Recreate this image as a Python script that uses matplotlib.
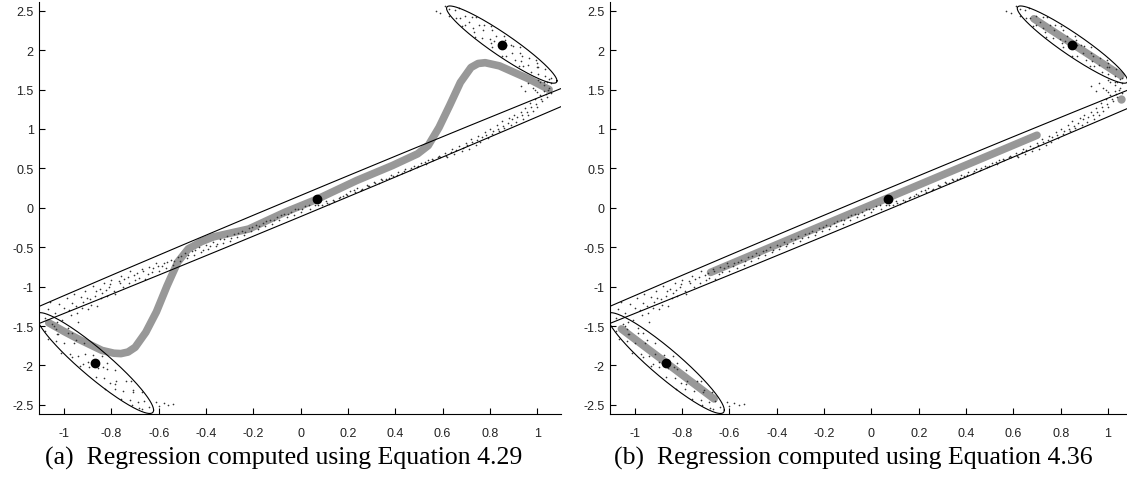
import matplotlib.pyplot as plt
import numpy as np

plt.rcParams['axes.unicode_minus'] = False
plt.rcParams['font.family'] = 'Liberation Sans'

# Gaussian components (means and covariances)
means = [(-0.87, -1.97), (0.07, 0.11), (0.85, 2.07)]
covs = [
    [[0.0615, -0.1479], [-0.1479, 0.4088]],
    [[4.000, 4.998], [4.998, 6.263]],
    [[0.0545, -0.1074], [-0.1074, 0.2399]],
]

# training samples
band_x = [-1.08, -1.06, -1.05, -1.04, -1.02, -1.01, -0.99, -0.98, -0.97, -0.96,
          -0.95, -0.94, -0.93, -0.92, -0.91, -0.90, -0.89, -0.88, -0.87, -0.86,
          -0.85, -0.84, -0.83, -0.82, -0.81, -0.80, -0.79, -0.77, -0.76, -0.75,
          -0.73, -0.72, -0.70, -0.69, -0.67, -0.66, -0.64, -0.63, -0.61, -0.60,
          -0.58, -0.57, -0.55, -0.54, -0.52, -0.51, -0.49, -0.48, -0.46, -0.45,
          -0.43, -0.42, -0.40, -0.39, -0.37, -0.36, -0.34, -0.33, -0.31, -0.30,
          -0.28, -0.27, -0.25, -0.24, -0.22, -0.21, -0.19, -0.18, -0.16, -0.15,
          -0.13, -0.12, -0.10, -0.09, -0.07, -0.06, -0.04, -0.03, -0.01, 0.00,
          0.02, 0.04, 0.09, 0.11, 0.12, 0.14, 0.16, 0.18, 0.19, 0.21,
          0.23, 0.24, 0.26, 0.28, 0.29, 0.31, 0.33, 0.34, 0.36, 0.38,
          0.39, 0.41, 0.43, 0.44, 0.46, 0.48, 0.49, 0.51, 0.53, 0.54,
          0.56, 0.58, 0.59, 0.61, 0.62, 0.64, 0.65, 0.67, 0.68, 0.70,
          0.71, 0.72, 0.74, 0.75, 0.76, 0.78, 0.79, 0.80, 0.81, 0.83,
          0.84, 0.85, 0.86, 0.88, 0.89, 0.90, 0.91, 0.93, 0.94, 0.95,
          0.96, 0.97, 0.98, 0.99, 1.00, 1.01, 1.02, 1.03, 1.04, 1.05,
          1.03, 1.01, 0.99,
          -1.07, -1.03, -1.00, -0.985, -0.965, -0.945, -0.925, -0.905, -0.885, -0.865,
          -0.845, -0.825, -0.805, -0.785, -0.765, -0.745, -0.725, -0.705, -0.685, -0.665,
          -0.645, -0.625, -0.605,
          -0.585, -0.565, -0.535, -0.505, -0.475, -0.445, -0.415, -0.385, -0.355, -0.325,
          -0.295, -0.265, -0.235, -0.205, -0.175, -0.145, -0.115, -0.085, -0.055, -0.025,
          0.005, 0.035, 0.06,
          0.075, 0.105, 0.135, 0.165, 0.195, 0.225, 0.255, 0.285, 0.315, 0.345,
          0.375, 0.405, 0.435, 0.465, 0.495, 0.525, 0.555, 0.585,
          0.615, 0.635, 0.655, 0.685, 0.705, 0.725, 0.745, 0.765, 0.785, 0.815,
          0.835, 0.855, 0.875, 0.895, 0.915, 0.935, 0.955, 0.975, 0.995, 1.015,
          1.035, 1.045]
band_y = [-1.40, -1.20, -1.48, -1.33, -1.22, -1.42, -1.15, -1.30, -1.36, -1.10,
          -1.25, -1.45, -1.13, -1.20, -1.05, -1.29, -1.16, -0.99, -1.12, -1.24,
          -1.03, -1.08, -0.95, -1.12, -1.00, -0.92, -1.06, -0.93, -0.86, -1.00,
          -0.88, -0.80, -0.92, -0.83, -0.78, -0.90, -0.75, -0.82, -0.70, -0.80,
          -0.70, -0.76, -0.66, -0.72, -0.62, -0.67, -0.57, -0.64, -0.55, -0.60,
          -0.50, -0.56, -0.47, -0.52, -0.44, -0.49, -0.40, -0.45, -0.36, -0.42,
          -0.33, -0.37, -0.29, -0.34, -0.26, -0.30, -0.22, -0.27, -0.19, -0.23,
          -0.15, -0.20, -0.12, -0.16, -0.08, -0.12, -0.05, -0.09, -0.02, -0.05,
          0.02, -0.02, 0.03, 0.06, 0.05, 0.08, 0.12, 0.15, 0.17, 0.21,
          0.20, 0.25, 0.24, 0.29, 0.27, 0.33, 0.32, 0.37, 0.36, 0.41,
          0.40, 0.45, 0.44, 0.49, 0.48, 0.53, 0.52, 0.57, 0.56, 0.61,
          0.60, 0.65, 0.64, 0.70, 0.64, 0.75, 0.68, 0.78, 0.72, 0.82,
          0.75, 0.87, 0.80, 0.91, 0.84, 0.96, 0.88, 1.00, 0.93, 1.05,
          0.97, 1.10, 1.01, 1.14, 1.05, 1.18, 1.09, 1.22, 1.13, 1.27,
          1.18, 1.33, 1.23, 1.38, 1.28, 1.43, 1.35, 1.48, 1.40, 1.52,
          1.56, 1.60, 1.50,
          -1.28, -1.45, -1.27, -1.52, -1.21, -1.33, -1.27, -1.14, -1.23, -1.05,
          -1.15, -1.04, -0.97, -1.10, -0.96, -0.90, -0.95, -0.85, -0.89, -0.80,
          -0.84, -0.76, -0.74,
          -0.74, -0.69, -0.68, -0.61, -0.60, -0.54, -0.53, -0.48, -0.46, -0.40,
          -0.38, -0.32, -0.31, -0.25, -0.23, -0.17, -0.15, -0.09, -0.08, -0.02,
          -0.01, 0.04, 0.03,
          0.04, 0.08, 0.10, 0.14, 0.16, 0.22, 0.23, 0.28, 0.31, 0.35,
          0.38, 0.42, 0.46, 0.50, 0.53, 0.58, 0.62, 0.66,
          0.66, 0.71, 0.73, 0.76, 0.79, 0.83, 0.86, 0.90, 0.92, 0.98,
          1.00, 1.04, 1.08, 1.12, 1.15, 1.18, 1.22, 1.28, 1.32, 1.38,
          1.44, 1.50]

upper_x = [0.629, 0.668, 0.655, 0.694, 0.682, 0.712, 0.743, 0.727, 0.755, 0.736,
           0.772, 0.768, 0.809, 0.799, 0.825, 0.809, 0.860, 0.842, 0.867, 0.850,
           0.898, 0.893, 0.928, 0.906, 0.935, 0.922, 0.966, 0.960, 0.994, 0.973,
           1.005, 1.002, 1.033, 1.031, 1.029, 1.060, 1.060,
           0.57, 0.59, 0.61, 0.98, 1.00, 1.04, 0.96, 0.95, 1.06, 0.93,
           0.627, 0.672, 0.726, 0.733, 0.803, 0.804, 0.865, 0.868, 0.927, 0.941,
           1.000, 1.002,
           0.651, 0.694, 0.776, 0.819, 0.888, 0.933, 0.997, 1.050]
upper_y = [2.515, 2.535, 2.408, 2.429, 2.302, 2.358, 2.414, 2.276, 2.320, 2.171,
           2.249, 2.157, 2.258, 2.143, 2.182, 2.044, 2.185, 2.036, 2.069, 1.925,
           2.055, 1.963, 2.036, 1.869, 1.919, 1.793, 1.905, 1.807, 1.880, 1.719,
           1.781, 1.694, 1.756, 1.675, 1.594, 1.649, 1.580,
           2.50, 2.47, 2.56, 1.52, 1.47, 1.60, 1.58, 1.48, 1.45, 1.55,
           2.434, 2.407, 2.415, 2.229, 2.305, 2.091, 2.133, 1.930, 1.960, 1.803,
           1.833, 1.625,
           2.512, 2.313, 2.314, 2.115, 2.059, 1.866, 1.787, 1.634]

lower_x = [-1.081, -1.043, -1.067, -1.029, -1.035, -0.985, -0.999, -1.012, -0.959, -0.974,
           -0.917, -0.942, -0.913, -0.933, -0.877, -0.896, -0.839, -0.858, -0.867, -0.820,
           -0.831, -0.784, -0.826, -0.779, -0.787, -0.739, -0.751, -0.758, -0.709, -0.720,
           -0.673, -0.686, -0.663, -0.669, -0.641,
           -0.58, -0.56, -0.61, -0.60, -0.54,
           -1.034, -0.965, -0.965, -0.899, -0.834, -0.806, -0.719, -0.715,
           -1.026, -0.948, -0.922, -0.820, -0.785, -0.710, -0.684]
lower_y = [-1.562, -1.494, -1.663, -1.596, -1.696, -1.587, -1.714, -1.841, -1.718, -1.853,
           -1.716, -1.885, -1.852, -2.007, -1.870, -2.019, -1.882, -2.030, -2.143, -2.041,
           -2.162, -2.060, -2.298, -2.196, -2.303, -2.200, -2.321, -2.427, -2.318, -2.439,
           -2.337, -2.464, -2.452, -2.552, -2.526,
           -2.48, -2.50, -2.46, -2.52, -2.49,
           -1.538, -1.589, -1.896, -1.954, -2.018, -2.222, -2.203, -2.496,
           -1.596, -1.679, -1.976, -1.971, -2.235, -2.331, -2.537]

# regression output, Eq. 4.29
reg_a_x = [-1.065, -1.00, -0.94, -0.84, -0.79, -0.76, -0.73, -0.70, -0.655, -0.61,
           -0.565, -0.52, -0.475, -0.42, -0.37, -0.22, -0.066, 0.07, 0.236, 0.388,
           0.494, 0.539, 0.585, 0.63, 0.675, 0.72, 0.75, 0.78, 0.84, 0.96, 1.05]
reg_a_y = [-1.46, -1.57, -1.665, -1.81, -1.845, -1.85, -1.83, -1.77, -1.58, -1.32,
           -0.99, -0.69, -0.52, -0.43, -0.37, -0.27, -0.056, 0.11, 0.345, 0.536,
           0.684, 0.789, 1.02, 1.30, 1.59, 1.78, 1.83, 1.84, 1.80, 1.64, 1.50]

# regression output, Eq. 4.36 (one segment per component)
reg_b_x = [(-1.057, -0.665), (-0.68, 0.70), (0.687, 1.055)]
reg_b_y = [(-1.537, -2.425), (-0.82, 0.92), (2.397, 1.678)]
stray_b = (1.055, 1.382)

captions = ['(a)  Regression computed using Equation 4.29',
            '(b)  Regression computed using Equation 4.36']

sample_x = band_x + upper_x + lower_x
sample_y = band_y + upper_y + lower_y
grey = '#989898'

fig = plt.figure(figsize=(11.27, 4.85), dpi=100)
ax_a = fig.add_axes([0.0349, 0.1437, 0.4628, 0.8501])
ax_b = fig.add_axes([0.5413, 0.1437, 0.4628, 0.8501])

ax_a.plot(reg_a_x, reg_a_y, color=grey, lw=5.5, solid_capstyle='round',
          solid_joinstyle='round', zorder=1)
for xs, ys in zip(reg_b_x, reg_b_y):
    ax_b.plot(xs, ys, color=grey, lw=5.5, solid_capstyle='round', zorder=1)
ax_b.plot(*stray_b, 'o', color=grey, ms=6, mec='none', zorder=1)

t = np.linspace(0, 2 * np.pi, 400)
for ax, cap, cx in [(ax_a, captions[0], 283.5), (ax_b, captions[1], 853)]:
    ax.plot(sample_x, sample_y, 'o', color='#333333', ms=1.2, mec='none', zorder=2)
    for m, c in zip(means, covs):
        L = np.linalg.cholesky(np.array(c))
        pts = np.array(m)[:, None] + L @ np.vstack([np.cos(t), np.sin(t)])
        ax.plot(pts[0], pts[1], color='black', lw=0.8, zorder=3)
    mx, my = zip(*means)
    ax.plot(mx, my, 'o', color='black', ms=6, zorder=4)

    ax.set_xlim(-1.105, 1.1)
    ax.set_ylim(-2.62, 2.61)
    ax.set_xticks(np.arange(-1, 1.01, 0.2))
    ax.set_xticklabels(['-1', '-0.8', '-0.6', '-0.4', '-0.2', '0',
                        '0.2', '0.4', '0.6', '0.8', '1'])
    ax.set_yticks([-2.5, -2, -1.5, -1, -0.5, 0, 0.5, 1, 1.5, 2, 2.5])
    ax.set_yticklabels(['-2.5', '-2', '-1.5', '-1', '-0.5', '0',
                        '0.5', '1', '1.5', '2', '2.5'])
    ax.spines['top'].set_visible(False)
    ax.spines['right'].set_visible(False)
    for s in ('left', 'bottom'):
        ax.spines[s].set_linewidth(0.8)
    ax.tick_params(direction='in', length=4.2, width=0.8, labelsize=9,
                   labelcolor='#222222')
    ax.tick_params(axis='x', pad=9)
    ax.tick_params(axis='y', pad=4)

    fig.text(cx / 1127, 1 - 465 / 485, cap, ha='center', va='baseline',
             family='Liberation Serif', fontsize=18.5)

fig.savefig('out.png', dpi=100)
